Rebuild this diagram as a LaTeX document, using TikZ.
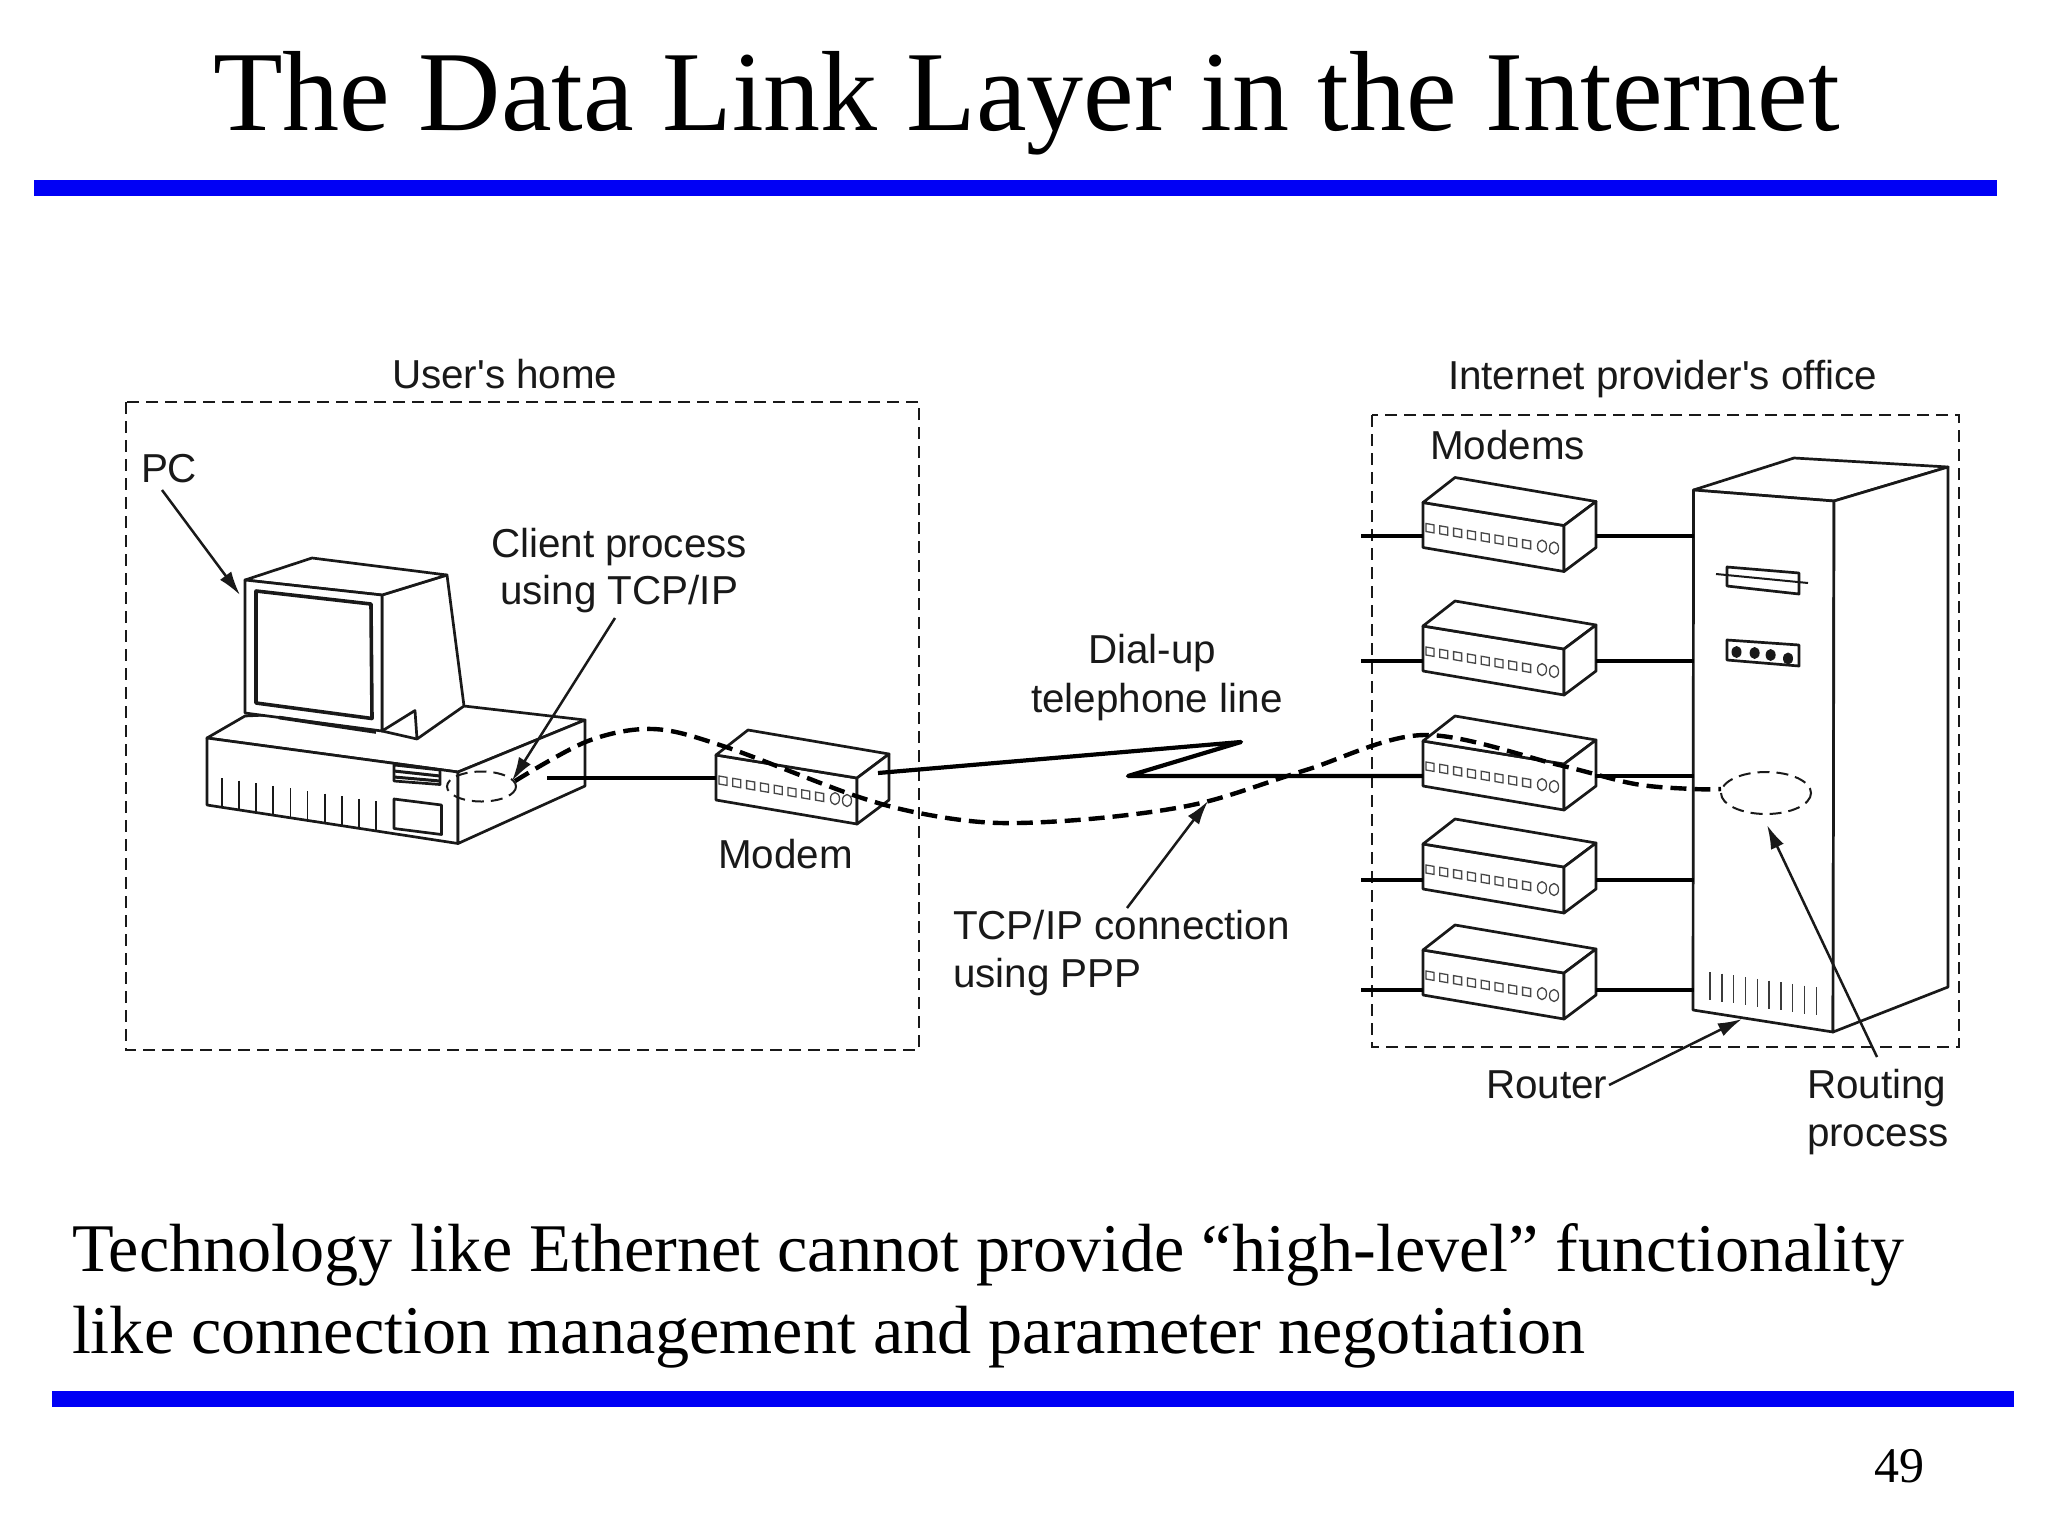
\documentclass[tikz,border=0pt]{standalone}
\usepackage{fontspec}
\setmainfont{Liberation Serif}
\newfontfamily\labfont{Liberation Sans}
\usetikzlibrary{arrows.meta}
\definecolor{barblue}{RGB}{0,0,245}
\definecolor{ink}{RGB}{25,25,25}
\tikzset{
  x=.5pt,y=-.5pt,
  every node/.style={inner sep=0pt,outer sep=0pt},
  lab/.style={anchor=base west,text=ink,font=\labfont\fontsize{20.2}{24}\selectfont},
  thinl/.style={draw=ink,line width=1.35pt,line join=round},
  stub/.style={draw=black,line width=2.1pt},
  box/.style={draw=ink,line width=1pt,dash pattern=on 6pt off 3.5pt},
  pipe/.style={draw=black,line width=2.2pt,dash pattern=on 8pt off 4pt},
  thinell/.style={draw=ink,line width=1pt,dash pattern=on 6pt off 3.5pt},
  ptr/.style={draw=ink,line width=1.25pt,-{Latex[length=12pt,width=7pt]}},
  bar/.style={fill=barblue,draw=none},
  modem/.pic={
    \path[thinl,fill=white] (0,0)--(141,23)--(141,69)--(0,45)--cycle;
    \path[thinl,fill=white] (0,0)--(32,-25)--(173,-1)--(141,23)--cycle;
    \path[thinl,fill=white] (141,23)--(173,-1)--(173,45)--(141,69)--cycle;
    \foreach \i in {0,...,7}{
      \draw[ink!80,line width=.65pt] ({3+\i*13.8},{21+\i*2.3}) -- ({11+\i*13.8},{22.4+\i*2.3}) -- ({11+\i*13.8},{30.4+\i*2.3}) -- ({3+\i*13.8},{29+\i*2.3}) -- cycle;
    }
    \draw[ink!80,line width=.65pt] (119,43.6) ellipse (4.5 and 6);
    \draw[ink!80,line width=.65pt] (131,45.5) ellipse (4.5 and 6);
    \coordinate (-l) at (0,30);
    \coordinate (-r) at (173,30);
  }
}
\begin{document}
\begin{tikzpicture}
\useasboundingbox (0,0) rectangle (2048,1536);
\fill[white] (0,0) rectangle (2048,1536);

% slide frame
\node[anchor=base west,font=\fontsize{57}{60}\selectfont] (title) at (213,131) {The Data Link Layer in the Internet};
\path[bar] (34,180) rectangle (1997,196);
\node[anchor=base west,font=\fontsize{34.1}{38}\selectfont] (body1) at (72,1271) {Technology like Ethernet cannot provide “high-level” functionality};
\node[anchor=base west,font=\fontsize{34.1}{38}\selectfont] (body2) at (72,1353) {like connection management and parameter negotiation};
\path[bar] (52,1391) rectangle (2014,1407);
\node[anchor=base west,font=\fontsize{25}{28}\selectfont] (page) at (1874,1482) {49};

% dashed regions
\draw[box] (126,402) rectangle (919,1050);
\draw[box] (1372,415) rectangle (1959,1047);

% PC case
\path[thinl,fill=white] (207,738)--(245,716)--(464,706)--(585,720)--(458,772)--cycle;
\path[thinl,fill=white] (207,738)--(458,772)--(458,843.5)--(207,805)--cycle;
\path[thinl,fill=white] (458,772)--(585,720)--(585,786)--(458,843.5)--cycle;
\foreach \i in {0,...,9}{
  \draw[ink,line width=.9pt] ({222+\i*17.1},{778+\i*2.6}) -- ({222+\i*17.1},{807+\i*2.7});
}
\draw[thinl,fill=white] (394,765)--(440,770)--(440,784.5)--(394,781)--cycle;
\draw[ink,line width=1.5pt] (394,771)--(440,776);
\draw[ink,line width=1.5pt] (394,777)--(440,781);
\draw[thinl] (394,799)--(441.5,805)--(441.5,834.5)--(394,828.5)--cycle;

% monitor
\path[thinl,fill=white] (382,595)--(447,575)--(464,706)--(417,739)--(415,710.5)--(382,731)--cycle;
\path[thinl,fill=white] (245,580)--(312,558)--(447,575)--(382,595)--cycle;
\path[thinl,fill=white] (245,580)--(382,595)--(382,731)--(245,713)--cycle;
\draw[ink,line width=1.8pt,line join=round] (256,591)--(371,604)--(372,718.5)--(256,703)--cycle;
\draw[ink,line width=1.8pt] (279,717.5)--(376,732);
\draw[thinl] (382,731)--(417,739);

% home process and modem
\draw[thinell] (481.5,786.5) ellipse (34.5 and 15);
\pic (hm) at (716,755) {modem};
\coordinate (hcase) at (547,778);
\draw[stub] (hcase) -- (hm-l |- hcase);

% provider modems
\pic (ma) at (1423,502.5) {modem};
\pic (mb) at (1423,626) {modem};
\pic (mc) at (1423,741) {modem};
\pic (md) at (1423,844) {modem};
\pic (me) at (1423,950) {modem};

% router
\path[thinl,fill=white] (1693.5,490)--(1794,458)--(1948,467)--(1834,501)--cycle;
\path[thinl,fill=white] (1693.5,490)--(1834,501)--(1833,1032)--(1693,1010)--cycle;
\path[thinl,fill=white] (1834,501)--(1948,467)--(1948,987)--(1833,1032)--cycle;
\coordinate (rleft) at (1693.5,700);
\foreach \i in {0,...,9}{
  \draw[ink!85,line width=.7pt] ({1710+\i*11.8},{972+\i*1.7}) -- ({1710+\i*11.8},{1000+\i*1.7});
}
\draw[thinl] (1727,567)--(1799,573)--(1799,594)--(1727,586)--cycle;
\draw[ink,line width=1pt] (1716,574)--(1808,583);
\draw[thinl] (1727,640)--(1799,645)--(1799,666)--(1727,660)--cycle;
\fill[ink] (1736.5,652) ellipse (5 and 6) (1754.6,653) ellipse (5 and 6) (1770.6,655) ellipse (5 and 6) (1788,658.5) ellipse (5 and 6);
\draw[thinell] (1766,793) ellipse (45 and 21);

% stubs
\foreach \m/\y in {ma/536,mb/661,md/880,me/990}{
  \coordinate (sl) at (1361,\y);
  \draw[stub] (sl) -- (\m-l |- sl);
  \draw[stub] (\m-r |- sl) -- (rleft |- sl);
}
\coordinate (sl) at (1595,776);
\draw[stub] (sl) -- (rleft |- sl);

% telephone line
\coordinate (t0) at (878,773);
\coordinate (t1) at (1241,742);
\coordinate (t2) at (1128,776);
\draw[stub,line join=round] (t0) -- (t1) -- (t2) -- (mc-l |- t2);

% TCP/IP connection
\coordinate (ps) at (515,781);
\coordinate (pe) at (1721,789);
\draw[pipe] plot[smooth,tension=.55] coordinates {(ps) (588,741) (653,729) (723,746) (853,795) (924,814) (1000,823) (1100,818) (1201,803) (1306,770) (1424,735) (1559,765) (1635,784) (1693,789) (pe)};

% labels
\node[lab] (home) at (392,388) {User's home};
\node[lab] (office) at (1448,389) {Internet provider's office};
\node[lab] (pc) at (141,482) {PC};
\node[lab] (client1) at (491,557) {Client process};
\node[lab] (client2) at (500,604) {using TCP/IP};
\node[lab] (hmodem) at (718,868) {Modem};
\node[lab] (modems) at (1430,459) {Modems};
\node[lab] (dial1) at (1088,663) {Dial-up};
\node[lab] (dial2) at (1031,712) {telephone line};
\node[lab] (tcp1) at (953,939) {TCP/IP connection};
\node[lab] (tcp2) at (953,987) {using PPP};
\node[lab] (router) at (1486,1098) {Router};
\node[lab] (rp1) at (1807,1098) {Routing};
\node[lab] (rp2) at (1807,1146) {process};

% pointers
\coordinate (pcfrom) at (162,490);
\coordinate (pcto) at (240,595);
\draw[ptr] (pcfrom) -- (pcto);
\coordinate (clfrom) at (615,618);
\coordinate (clto) at (512,781);
\draw[ptr] (clfrom) -- (clto);
\coordinate (tcfrom) at (1127,908);
\coordinate (tcto) at (1208,801);
\draw[ptr] (tcfrom) -- (tcto);
\coordinate (rofrom) at (1609,1085);
\coordinate (roto) at (1742,1019);
\draw[ptr] (rofrom) -- (roto);
\coordinate (rpfrom) at (1877,1057);
\coordinate (rpto) at (1767,825);
\draw[ptr] (rpfrom) -- (rpto);
\end{tikzpicture}
\end{document}
